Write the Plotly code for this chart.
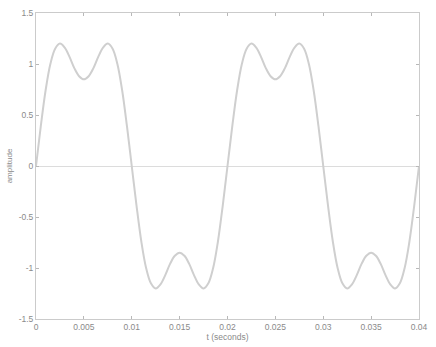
import plotly.graph_objects as go

# time samples (seconds)
t_values = [round(i * 0.0005, 4) for i in range(81)]

# amplitude
amplitude = [
    0.00, 0.39, 0.74, 1.00, 1.15, 1.20, 1.16, 1.07, 0.96, 0.88,
    0.85, 0.88, 0.96, 1.07, 1.16, 1.20, 1.15, 1.00, 0.74, 0.39,
    0.00, -0.39, -0.74, -1.00, -1.15, -1.20, -1.16, -1.07, -0.96, -0.88,
    -0.85, -0.88, -0.96, -1.07, -1.16, -1.20, -1.15, -1.00, -0.74, -0.39,
    0.00, 0.39, 0.74, 1.00, 1.15, 1.20, 1.16, 1.07, 0.96, 0.88,
    0.85, 0.88, 0.96, 1.07, 1.16, 1.20, 1.15, 1.00, 0.74, 0.39,
    0.00, -0.39, -0.74, -1.00, -1.15, -1.20, -1.16, -1.07, -0.96, -0.88,
    -0.85, -0.88, -0.96, -1.07, -1.16, -1.20, -1.15, -1.00, -0.74, -0.39,
    0.00,
]

x_ticks = [0, 0.005, 0.01, 0.015, 0.02, 0.025, 0.03, 0.035, 0.04]
x_tick_labels = ["0", "0.005", "0.01", "0.015", "0.02", "0.025", "0.03", "0.035", "0.04"]
y_ticks = [-1.5, -1, -0.5, 0, 0.5, 1, 1.5]
y_tick_labels = ["-1.5", "-1", "-0.5", "0", "0.5", "1", "1.5"]

font_family = "Liberation Sans, Arial, sans-serif"

fig = go.Figure()
fig.add_trace(go.Scatter(
    x=t_values, y=amplitude, mode="lines",
    line=dict(color="#cfcfcf", width=2, shape="spline"),
    showlegend=False,
))

axis_common = dict(
    showgrid=False, ticks="inside", ticklen=3, tickcolor="#b8b8b8",
    showline=True, linecolor="#cbcbcb", linewidth=1, mirror="ticks",
    tickfont=dict(family=font_family, size=8.5, color="#8a8a8a"),
)

fig.update_xaxes(
    range=[0, 0.04], tickvals=x_ticks, ticktext=x_tick_labels,
    zeroline=False,
    title=dict(text="t (seconds)", font=dict(family=font_family, size=8.5, color="#8a8a8a"), standoff=1),
    **axis_common,
)
fig.update_yaxes(
    range=[-1.5, 1.5], tickvals=y_ticks, ticktext=y_tick_labels,
    zeroline=True, zerolinecolor="#dcdcdc", zerolinewidth=1,
    title=dict(text="amplitude", font=dict(family=font_family, size=8, color="#8a8a8a"), standoff=4),
    **axis_common,
)

fig.update_layout(
    width=436, height=347,
    margin=dict(l=36, r=8, t=12, b=25),
    paper_bgcolor="white", plot_bgcolor="white",
)

fig.write_html("out.html")
